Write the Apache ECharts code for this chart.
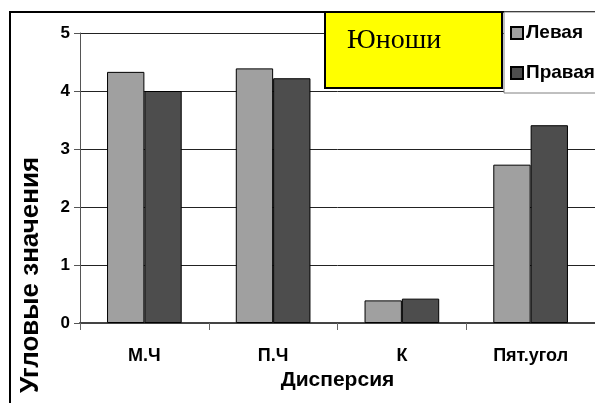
<!DOCTYPE html>
<html>
<head>
<meta charset="utf-8">
<script src="https://cdn.jsdelivr.net/npm/echarts@6/dist/echarts.min.js"></script>
<style>
html,body{margin:0;padding:0;background:#fff;}
#chart{width:595px;height:403px;}
</style>
</head>
<body>
<div id="chart"></div>
<script>
const categories = ['М.Ч', 'П.Ч', 'К', 'Пят.угол'];
const leftValues = [4.33, 4.39, 0.39, 2.73];
const rightValues = [4.00, 4.22, 0.42, 3.41];
const seriesNames = ['Левая', 'Правая'];
const yTicks = [0, 1, 2, 3, 4, 5];
const titleText = 'Юноши';
const xAxisTitle = 'Дисперсия';
const yAxisTitle = 'Угловые значения';

const FONT = 'Arial, "Liberation Sans", sans-serif';
const chart = echarts.init(document.getElementById('chart'), null, {renderer: 'canvas'});
chart.setOption({
  animation: false,
  backgroundColor: '#fff',
  grid: {left: 80, top: 33, right: -4, bottom: 80, containLabel: false},
  legend: {
    data: seriesNames,
    orient: 'vertical',
    left: 504, top: 12,
    padding: [11, 10, 10, 6],
    backgroundColor: '#fff',
    borderColor: '#808080', borderWidth: 1,
    borderRadius: 0,
    itemWidth: 12, itemHeight: 12, itemGap: 20,
    icon: 'rect',
    textStyle: {fontFamily: FONT, fontWeight: 'bold', fontSize: 19, color: '#000', lineHeight: 20, padding: [0,0,0,-2]},
    z: 20
  },
  xAxis: {
    type: 'category',
    data: categories,
    boundaryGap: true,
    name: xAxisTitle,
    nameLocation: 'middle',
    nameGap: 44,
    nameTextStyle: {fontFamily: FONT, fontWeight: 'bold', fontSize: 21, color: '#000'},
    axisLine: {show: true, lineStyle: {color: '#444', width: 2}},
    axisTick: {show: true, alignWithLabel: false, length: 7, lineStyle: {color: '#666'}},
    axisLabel: {fontFamily: FONT, fontWeight: 'bold', fontSize: 18, color: '#000', margin: 24, interval: 0},
    splitLine: {show: false}
  },
  yAxis: {
    type: 'value',
    min: yTicks[0], max: yTicks[yTicks.length - 1], interval: 1,
    axisLine: {show: true, lineStyle: {color: '#555', width: 1}},
    axisTick: {show: true, length: 6, lineStyle: {color: '#555'}},
    axisLabel: {fontFamily: FONT, fontWeight: 'bold', fontSize: 17, color: '#000', margin: 10},
    splitLine: {show: true, lineStyle: {color: '#222', width: 1}}
  },
  series: [
    {name: seriesNames[0], type: 'bar', data: leftValues, barGap: '0%', barCategoryGap: '42%',
     itemStyle: {color: '#a0a0a0', borderColor: '#000', borderWidth: 1}},
    {name: seriesNames[1], type: 'bar', data: rightValues, barGap: '0%', barCategoryGap: '42%',
     itemStyle: {color: '#4d4d4d', borderColor: '#000', borderWidth: 1}}
  ],
  graphic: [
    {type: 'rect', shape: {x: 10, y: 12, width: 600, height: 400}, silent: true, z: 0,
     style: {fill: 'none', stroke: '#000', lineWidth: 2}},
    {type: 'rect', shape: {x: 325, y: 12, width: 177, height: 76}, z: 30,
     style: {fill: '#ffff00', stroke: '#000', lineWidth: 2}},
    {type: 'text', x: 347, y: 41, z: 31,
     style: {text: titleText, font: '28px "Liberation Serif", "Times New Roman", serif', fill: '#000', textVerticalAlign: 'middle', textAlign: 'left'}},
    {type: 'text', x: 31, y: 275, rotation: Math.PI / 2, z: 31,
     style: {text: yAxisTitle, font: 'bold 26px ' + FONT, fill: '#000', textAlign: 'center', textVerticalAlign: 'middle'}}
  ]
});
</script>
</body>
</html>
